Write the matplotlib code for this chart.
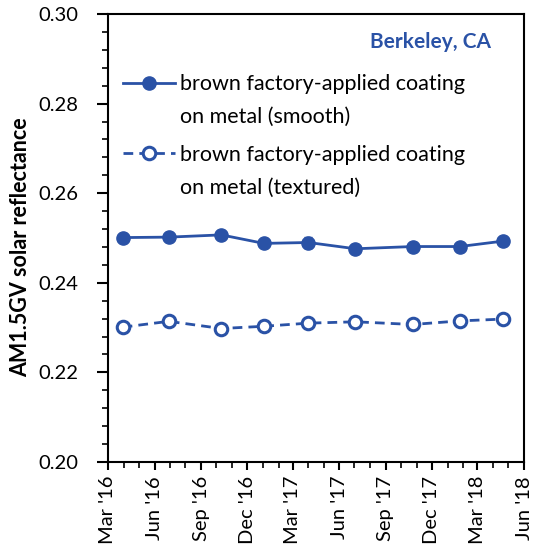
import numpy as np
import matplotlib
matplotlib.use("Agg")
from matplotlib import pyplot as plt
import matplotlib.dates as mdates
from matplotlib.ticker import MultipleLocator, AutoMinorLocator
from datetime import date

plt.rcParams['font.family'] = ['Lato', 'DejaVu Sans']

dates = [date(2016, 3, 30), date(2016, 6, 29), date(2016, 10, 11),
         date(2017, 1, 3), date(2017, 4, 1), date(2017, 7, 3),
         date(2017, 10, 24), date(2018, 1, 25), date(2018, 4, 20)]
smooth = [0.2501, 0.2502, 0.2507, 0.2488, 0.2490, 0.2476, 0.2481, 0.2481, 0.2493]
smooth_err = [0.0003, 0.0003, 0.0003, 0.0003, 0.0012, 0.0003, 0.0003, 0.0003, 0.0003]
textured = [0.2301, 0.2314, 0.2298, 0.2303, 0.2310, 0.2313, 0.2307, 0.2315, 0.2319]
textured_err = [0.0003, 0.0003, 0.0003, 0.0003, 0.0003, 0.0010, 0.0003, 0.0003, 0.0003]

label_smooth = ["brown factory-applied coating", "on metal (smooth)"]
label_textured = ["brown factory-applied coating", "on metal (textured)"]
site = "Berkeley, CA"
blue = '#2A52A6'

fig = plt.figure(figsize=(5.41, 5.59), dpi=100)
ax = fig.add_axes([0.1996, 0.1735, 0.769, 0.8014])

ax.errorbar(dates, smooth, yerr=smooth_err, color=blue, lw=2, marker='o',
            ms=9.5, mfc=blue, mec=blue, capsize=3, elinewidth=1.2)
ax.errorbar(dates, textured, yerr=textured_err, color=blue, lw=2, ls=(0, (3.5, 2.2)),
            marker='o', ms=9, mfc='white', mec=blue, mew=2.2, capsize=3, elinewidth=1.2)

ax.set_ylim(0.20, 0.30)
ax.yaxis.set_major_locator(MultipleLocator(0.02))
ax.yaxis.set_minor_locator(AutoMinorLocator(5))
ax.yaxis.set_major_formatter(matplotlib.ticker.FormatStrFormatter('%.2f'))

ax.set_xlim(date(2016, 3, 1), date(2018, 6, 1))
ax.xaxis.set_major_locator(mdates.MonthLocator(bymonth=[3, 6, 9, 12]))
ax.xaxis.set_minor_locator(mdates.MonthLocator())
ax.xaxis.set_major_formatter(mdates.DateFormatter("%b '%y"))
for lab in ax.get_xticklabels():
    lab.set_rotation(90)

ax.tick_params(axis='y', which='major', direction='out', length=8, width=1.5,
               labelsize=14.5, pad=13)
ax.tick_params(axis='x', which='major', direction='out', length=6, width=1.5,
               labelsize=14.5, pad=4)
ax.tick_params(axis='both', which='minor', direction='out', length=4.5, width=1.2)
for sp in ax.spines.values():
    sp.set_linewidth(1.5)

ax.set_ylabel("AM1.5GV solar reflectance", fontsize=15.5, fontweight='bold')
ax.yaxis.set_label_coords(-0.185, 0.48)

ax.text(0.92, 0.9375, site, transform=ax.transAxes, ha='right', va='center',
        fontsize=15, fontweight='bold', color=blue)

h1 = ax.plot([], [], color=blue, lw=2, marker='o', ms=9.5, mfc=blue, mec=blue)[0]
h2 = ax.plot([], [], color=blue, lw=2, ls=(0, (3.5, 2.2)), marker='o', ms=9,
             mfc='white', mec=blue, mew=2.2)[0]
blank = ax.plot([], [], color='none')[0]

leg_kw = dict(frameon=False, fontsize=15.5, handlelength=2.42, handletextpad=0.23,
              labelspacing=0.6, borderaxespad=0, borderpad=0, loc='upper left')
leg1 = ax.legend([h1, blank], label_smooth, bbox_to_anchor=(0.036, 0.866), **leg_kw)
ax.add_artist(leg1)
leg2 = ax.legend([h2, blank], label_textured, bbox_to_anchor=(0.036, 0.7076), **leg_kw)

fig.savefig("out.png", dpi=100)
